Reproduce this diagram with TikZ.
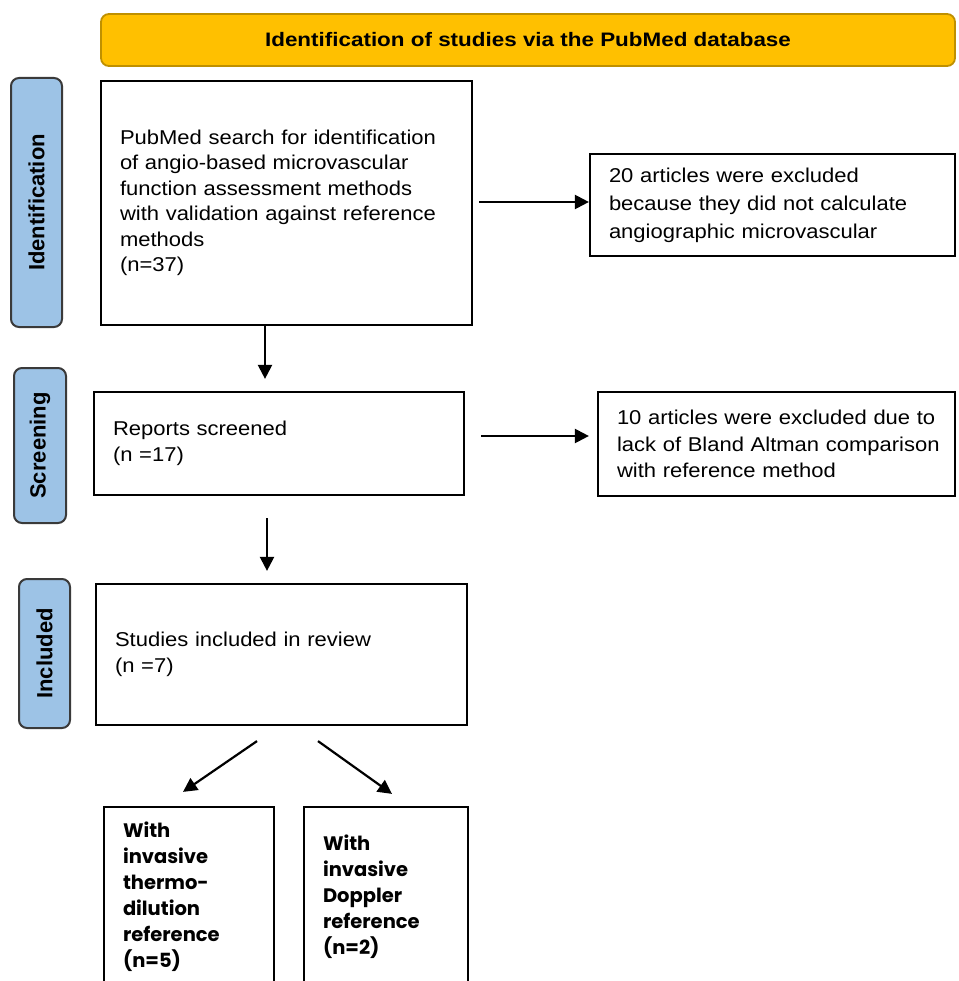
\documentclass[tikz,border=0pt]{standalone}
\usepackage{fontspec}
\setmainfont[FakeStretch=1.1]{Liberation Sans}
\newfontfamily\bannerfont[FakeStretch=1.15]{Liberation Sans}
\newfontfamily\sidefont{Liberation Sans}
\newfontfamily\popfont{Poppins}
\usetikzlibrary{arrows.meta,calc}
\definecolor{bannerfill}{HTML}{FFC000}
\definecolor{bannerdraw}{HTML}{BF9000}
\definecolor{sidefill}{HTML}{9DC3E6}
\definecolor{sidedraw}{HTML}{3A3A3A}
\tikzset{
  box/.style={draw=black, line width=2.2pt, rectangle, align=left, inner xsep=19pt, inner ysep=0pt,
    font=\fontsize{20}{25.5}\selectfont},
  sidelab/.style={draw=sidedraw, fill=sidefill, line width=2pt, rounded corners=8pt, rotate=90,
    inner sep=0pt, font=\sidefont\bfseries\fontsize{22}{24}\selectfont},
  subbox/.style={draw=black, line width=2.2pt, rectangle, align=left, inner xsep=19pt, inner ysep=0pt,
    font=\popfont\bfseries\fontsize{19.5}{26}\selectfont},
  arr/.style={line width=2.2pt, -{Triangle[length=14pt,width=14pt]}},
}
\begin{document}
\begin{tikzpicture}[x=1pt,y=-1pt]
\useasboundingbox (0,0) rectangle (958,981);
\clip (0,0) rectangle (958,981);
\fill[white] (0,0) rectangle (958,981);
% banner
\node[draw=bannerdraw, fill=bannerfill, line width=1.8pt, rounded corners=8pt,
  minimum width=854pt, minimum height=52pt, inner sep=0pt,
  font=\bannerfont\bfseries\fontsize{19.5}{22}\selectfont] (banner) at (528,40) {Identification of studies via the PubMed database};
% side labels
\node[sidelab, minimum width=249pt, minimum height=51pt] (sid) at (36.5,202.5) {Identification};
\node[sidelab, minimum width=155pt, minimum height=52pt] (sscr) at (40,445.5) {Screening};
\node[sidelab, minimum width=149pt, minimum height=51pt] (sinc) at (44.5,653.5) {Included};
% main boxes
\node[box, text width=333pt, minimum height=244pt] (b1) at (286.5,203) {PubMed search for identification\\of angio-based microvascular\\function assessment methods\\with validation against reference\\methods\\(n=37)};
\node[box, text width=327pt, minimum height=102pt, font=\fontsize{20}{28}\selectfont] (e1) at (772.5,205) {20 articles were excluded\\because they did not calculate\\angiographic microvascular};
\node[box, text width=332pt, minimum height=103pt] (b2) at (279,443.5) {Reports screened\\(n =17)};
\node[box, text width=319pt, minimum height=104pt, font=\fontsize{20}{26.5}\selectfont] (e2) at (776.5,444) {\mbox{10 articles were excluded due to}\\\mbox{lack of Bland Altman comparison}\\with reference method};
\node[box, text width=333pt, minimum height=141pt] (b3) at (281.5,654.5) {Studies included in review\\(n =7)};
\node[subbox, text width=132pt, minimum height=180pt] (s1) at (189,897) {With\\invasive\\thermo-\\dilution\\reference\\(n=5)};
\node[subbox, text width=126pt, minimum height=180pt] (s2) at (386,897) {With\\invasive\\Doppler\\reference\\(n=2)};
% arrows
\draw[arr] ([xshift=6pt,yshift=1pt]b1.east) -- ([yshift=3pt]e1.west);
\draw[arr] ([xshift=16pt,yshift=7.5pt]b2.east) -- ([xshift=-8pt,yshift=8pt]e2.west);
\draw[arr] ([xshift=-21.5pt]b1.south) -- ([xshift=-14pt,yshift=12pt]b2.north);
\draw[arr] ([xshift=-12pt,yshift=-22pt]b2.south) -- ([xshift=-14.5pt,yshift=12pt]b3.north);
\draw[arr] ([xshift=-24.5pt,yshift=-15pt]b3.south) -- ([xshift=-6pt,yshift=14pt]s1.north);
\draw[arr] ([xshift=36.5pt,yshift=-15pt]b3.south) -- ([xshift=6pt,yshift=12pt]s2.north);
\end{tikzpicture}
\end{document}
